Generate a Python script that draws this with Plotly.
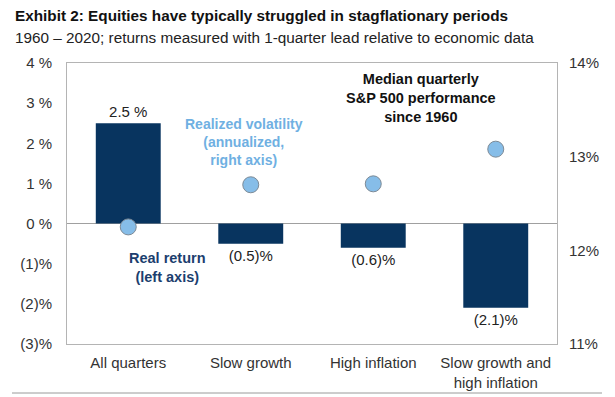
import plotly.graph_objects as go

# ---- data ----
categories = ["All quarters", "Slow growth", "High inflation", "Slow growth and<br>high inflation"]
real_return = [2.5, -0.5, -0.6, -2.1]          # left axis, %
return_labels = ["2.5 %", "(0.5)%", "(0.6)%", "(2.1)%"]
volatility = [12.25, 12.70, 12.71, 13.08]       # right axis, %
left_tickvals = [-3, -2, -1, 0, 1, 2, 3, 4]
left_ticktext = ["(3)%", "(2)%", "(1)%", "0 %", "1 %", "2 %", "3 %", "4 %"]
right_tickvals = [11, 12, 13, 14]
right_ticktext = ["11%", "12%", "13%", "14%"]

FONT = "Liberation Sans, Arial, sans-serif"
W, H = 615, 397
L, R, T, B = 67, 58, 63, 53
pw, ph = W - L - R, H - T - B


def px(x):
    return (x - L) / pw


def py(y):
    return (H - B - y) / ph


fig = go.Figure()
fig.add_trace(go.Bar(
    x=categories, y=real_return, text=return_labels, textposition="outside",
    textfont=dict(family=FONT, size=15, color="#222222"),
    marker=dict(color="#08345f", line=dict(width=0)), width=0.53,
    cliponaxis=False, yaxis="y", hoverinfo="skip"))
fig.add_trace(go.Scatter(
    x=categories, y=volatility, mode="markers", yaxis="y2",
    marker=dict(size=16, color="#86bde8", line=dict(color="#7d8a96", width=1)),
    hoverinfo="skip"))

fig.update_layout(
    width=W, height=H, margin=dict(l=L, r=R, t=T, b=B, pad=0, autoexpand=False),
    paper_bgcolor="white", plot_bgcolor="white", showlegend=False,
    font=dict(family=FONT, size=15, color="#333333"),
    xaxis=dict(showgrid=False, showline=True, linecolor="#b4b4b4", linewidth=1, mirror=True,
               automargin=False,
               ticks="", ticklabelstandoff=5, tickfont=dict(size=15, color="#333333")),
    yaxis=dict(range=[-3, 4], tickvals=left_tickvals, ticktext=left_ticktext, showgrid=False,
               zeroline=True, zerolinecolor="#a0a0a0", zerolinewidth=1, automargin=False,
               showline=True, linecolor="#b4b4b4", linewidth=1, mirror=True,
               ticks="", ticklabelstandoff=11, tickfont=dict(size=15, color="#333333")),
    yaxis2=dict(range=[11, 14], tickvals=right_tickvals, ticktext=right_ticktext, overlaying="y",
                side="right", showgrid=False, zeroline=False, showline=False, automargin=False,
                ticks="", ticklabelstandoff=11, tickfont=dict(size=15, color="#333333")),
    bargap=0.47,
)

ann = [
    dict(text="<b>Exhibit 2: Equities have typically struggled in stagflationary periods</b>",
         x=px(13), y=py(15), xanchor="left", yanchor="middle",
         font=dict(size=15.3, color="#111111")),
    dict(text="1960 \u2013 2020; returns measured with 1-quarter lead relative to economic data",
         x=px(13), y=py(37), xanchor="left", yanchor="middle",
         font=dict(size=15.3, color="#222222")),
    dict(text="<b>Realized volatility<br>(annualized,<br>right axis)</b>",
         x=px(244), y=py(142), xanchor="center", yanchor="middle",
         font=dict(size=14, color="#6fb0e2")),
    dict(text="<b>Median quarterly<br>S&P 500 performance<br>since 1960</b>",
         x=px(421), y=py(98), xanchor="center", yanchor="middle",
         font=dict(size=14.5, color="#111111")),
    dict(text="<b>Real return<br>(left axis)</b>",
         x=px(167), y=py(267.5), xanchor="center", yanchor="middle",
         font=dict(size=14.5, color="#1c3e6e")),
]
for a in ann:
    a.update(xref="paper", yref="paper", showarrow=False)
fig.update_layout(annotations=ann)

fig.add_shape(type="line", xref="paper", yref="paper", x0=px(12), x1=px(602), y0=py(393), y1=py(393),
              line=dict(color="#9a9a9a", width=1))

fig.write_html("out.html", config={"displayModeBar": False},
               post_script="document.body.style.margin='0px';document.body.style.overflow='hidden';")
